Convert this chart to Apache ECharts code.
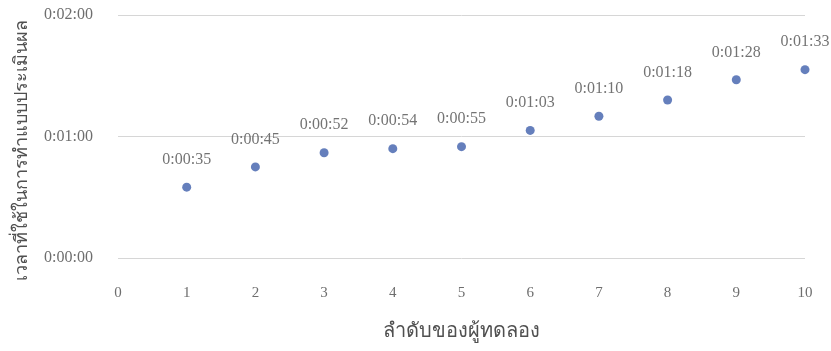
<!DOCTYPE html>
<html>
<head>
<meta charset="utf-8">
<script src="https://cdn.jsdelivr.net/npm/echarts@6/dist/echarts.min.js"></script>
<style>
  html, body { margin: 0; padding: 0; background: #fff; }
  #chart { width: 831px; height: 351px; }
</style>
</head>
<body>
<div id="chart"></div>
<script>
// Participant order and time spent on the evaluation form (seconds)
const participants = [1, 2, 3, 4, 5, 6, 7, 8, 9, 10];
const durations = [35, 45, 52, 54, 55, 63, 70, 78, 88, 93];
const yTicks = [0, 60, 120];

const xTitle = 'ลำดับของผู้ทดลอง';
const yTitle = 'เวลาที่ใช้ในการทำแบบประเมินผล';

function hms(sec) {
  const h = Math.floor(sec / 3600);
  const m = Math.floor((sec % 3600) / 60);
  const s = Math.round(sec % 60);
  return h + ':' + String(m).padStart(2, '0') + ':' + String(s).padStart(2, '0');
}

const serif = '"Liberation Serif", "DejaVu Serif", serif';
const labelColor = '#505050';
const tickColor = '#6e6e6e';

const chart = echarts.init(document.getElementById('chart'));
chart.setOption({
  backgroundColor: '#fff',
  animation: false,
  grid: { left: 118, right: 26, top: 15, bottom: 93 },
  graphic: [{
    type: 'text',
    rotation: Math.PI / 2,
    x: 22,
    y: 150,
    style: {
      text: yTitle,
      font: '18px ' + serif,
      fill: labelColor,
      align: 'center',
      verticalAlign: 'middle'
    }
  }],
  xAxis: {
    type: 'value',
    min: 0,
    max: 10,
    interval: 1,
    name: xTitle,
    nameLocation: 'middle',
    nameGap: 64,
    nameTextStyle: { fontFamily: serif, fontSize: 20, color: labelColor },
    axisLine: { show: false },
    axisTick: { show: false },
    splitLine: { show: false },
    axisLabel: { fontFamily: serif, fontSize: 15, color: tickColor, margin: 28 }
  },
  yAxis: {
    type: 'value',
    min: yTicks[0],
    max: yTicks[yTicks.length - 1],
    interval: yTicks[1] - yTicks[0],
    axisLine: { show: false },
    axisTick: { show: false },
    splitLine: { lineStyle: { color: '#d6d6d6', width: 1 } },
    axisLabel: { fontFamily: serif, fontSize: 16, color: tickColor, margin: 25, formatter: v => hms(v) }
  },
  series: [{
    type: 'scatter',
    symbolSize: 9,
    itemStyle: { color: '#3f5fab' },
    data: participants.map((p, i) => [p, durations[i]]),
    label: {
      show: true,
      position: 'top',
      distance: 15,
      fontFamily: serif,
      fontSize: 16,
      color: labelColor,
      formatter: p => hms(p.value[1])
    }
  }]
});
</script>
</body>
</html>
